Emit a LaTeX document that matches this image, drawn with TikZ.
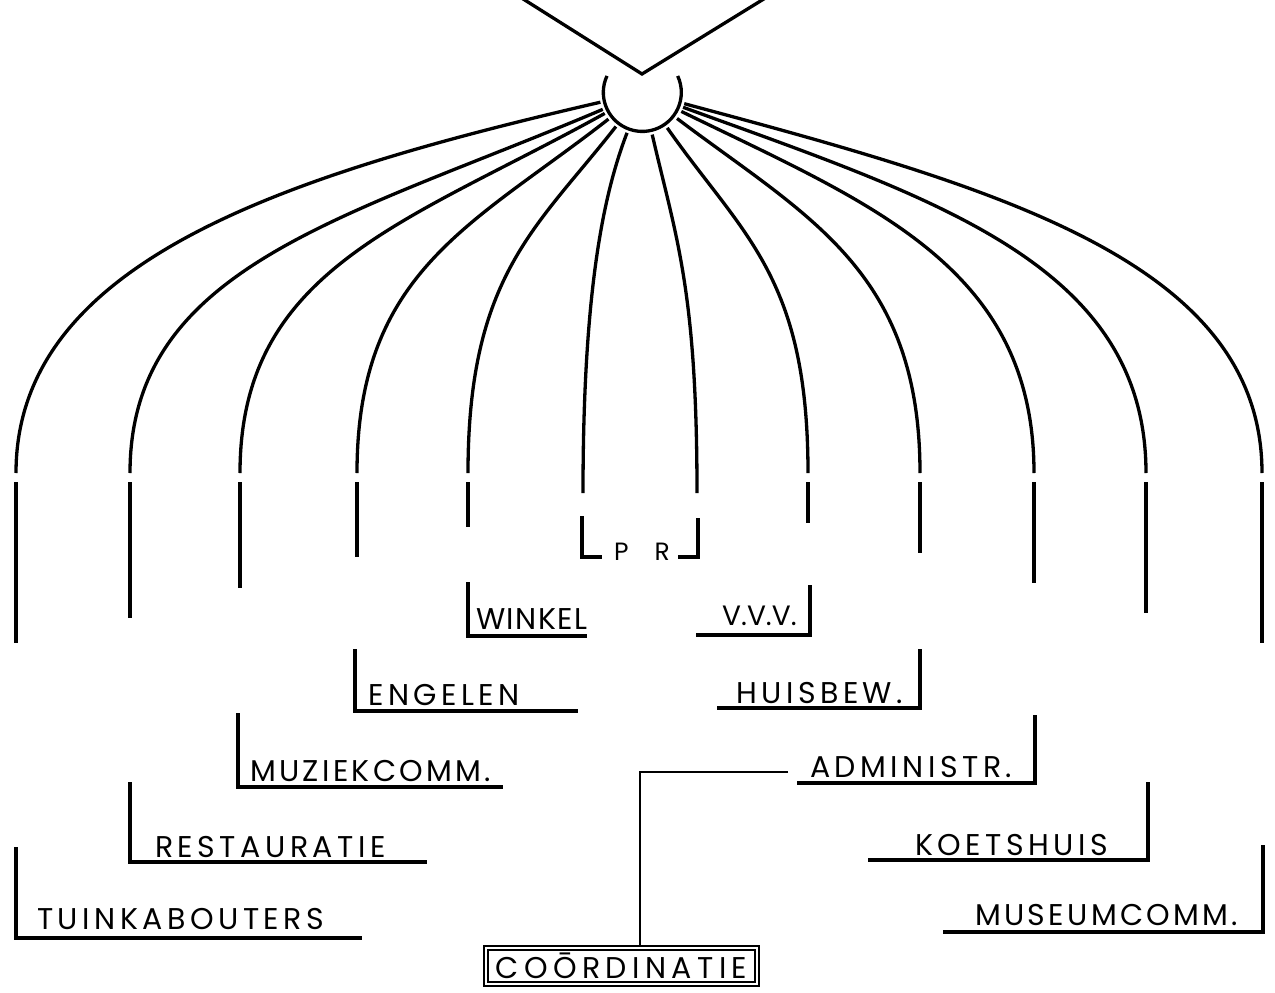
\documentclass[tikz,border=0pt]{standalone}
\usepackage{fontspec}
\setmainfont{Poppins}[LetterSpace=15]
\usepackage{tikz}

\newcommand{\tighter}[1]{\addfontfeature{LetterSpace=#1}}

\begin{document}
\begin{tikzpicture}[x=1pt,y=-1pt]
\tikzstyle{every node}+=[inner sep=0pt]
\tikzstyle{arch}=[black, line width=3.3pt]
\tikzstyle{post}=[black, line width=3.3pt]
\tikzstyle{bracket}=[black, line width=4pt]
\tikzstyle{lbl}=[font=\fontsize{30}{34}\selectfont, anchor=base west]
\useasboundingbox (0,0) rectangle (1275,993);

% roof and hub
\draw [arch] (520,-3) -- (642,74) -- (767,-3);
\node [circle, minimum size=78pt] (hub) at (642.5,92.5) {};
\draw [arch] (hub.155) arc [start angle=155, end angle=385, radius=39pt];

% the twelve arches
\foreach \i/\ang/\x/\yend/\lo/\li in {1/193/16/473/330/211, 2/203/130/473/283/207,
  3/209/240/473/230/205, 4/218/357/473/176/202, 5/232/468/473/132/198,
  6/249/583/493/68/205, 7/283/697/493/109/204, 8/305/808/473/135/197,
  9/323/920/473/168/202, 10/334/1034/473/216/206, 11/340/1146/473/271/209,
  12/345/1262/473/329/211}
{
  \coordinate (foot\i) at (\x,\yend);
  \draw [arch, shorten <=4pt] (hub.\ang) to[out=\ang, in=90, out distance=\lo pt, in distance=\li pt] (foot\i);
}
\foreach \x/\e in {16/643,130/618,240/588,357/557,468/527,808/523,920/553,1034/583,1146/613,1262/643}
  \draw [post] (\x,482) -- (\x,\e);

% labels
\node [lbl] (tuin) at (37,929) {TUINKABOUTERS};
\node [lbl] (rest) at (155,857) {RESTAURATIE};
\node [lbl] (muz) at (250,781) {\tighter{11}MUZIEKCOMM.};
\node [lbl] (eng) at (368,705) {ENGELEN};
\node [lbl] (wink) at (476,629) {\tighter{5}WINKEL};
\node [lbl, anchor=base, font=\fontsize{25}{28}\selectfont] (pr) at (642,560) {P\hspace{26pt}R};
\node [lbl, font=\fontsize{28}{32}\selectfont] (vvv) at (722,625) {\tighter{0}V.V.V.};
\node [lbl] (huis) at (736,703) {HUISBEW.};
\node [lbl] (adm) at (810,777) {ADMINISTR.};
\node [lbl] (koets) at (915,855) {KOETSHUIS};
\node [lbl] (mus) at (975,925) {\tighter{11}MUSEUMCOMM.};

\foreach \x/\t/\e/\y in {16/847/362/938, 130/782/427/862, 238/713/503/787, 355/649/578/711,
  468/582/587/636, 582/516/602/557, 698/518/678/557, 810/585/696/635, 920/649/717/708,
  1035/715/797/783, 1148/782/868/860, 1263/845/943/932}
  \draw [bracket] (\x,\t) |- (\e,\y);

% coordination
\node [draw, double, line width=1.8pt, double distance=2.4pt, minimum width=271pt,
  minimum height=36pt, font=\fontsize{30}{34}\selectfont\tighter{18}] (coord) at (621.5,966) {COŌRDINATIE};
\coordinate (link) at (788,772);
\draw [post, line width=2.6pt] (link) -| ([xshift=18.5pt]coord.north);
\end{tikzpicture}
\end{document}
